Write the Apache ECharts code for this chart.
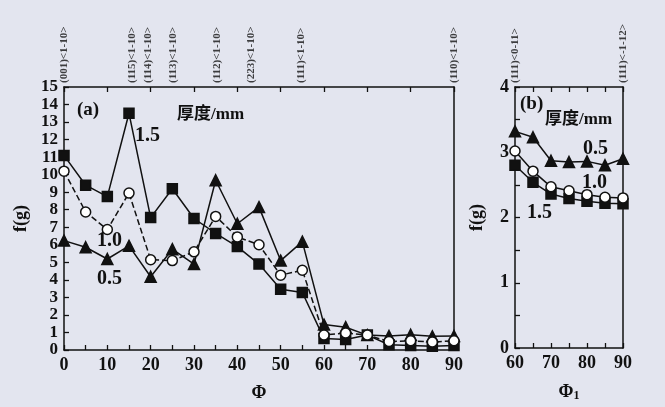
<!DOCTYPE html>
<html><head><meta charset="utf-8">
<script src="https://cdn.jsdelivr.net/npm/echarts@6/dist/echarts.min.js"></script>
<style>html,body{margin:0;padding:0;background:#e3e5ef;}#c{width:665px;height:407px;}</style>
</head><body><div id="c"></div>
<script>
// ---- Data ----
const phiA = [0,5,10,15,20,25,30,35,40,45,50,55,60,65,70,75,80,85,90];
const a15 = [11.1,9.4,8.75,13.5,7.55,9.2,7.5,6.65,5.9,4.9,3.47,3.28,0.65,0.6,0.85,0.3,0.25,0.22,0.25];
const a10 = [10.2,7.87,6.87,8.95,5.15,5.1,5.6,7.62,6.45,6.0,4.27,4.55,0.85,0.97,0.85,0.48,0.53,0.45,0.53];
const a05 = [6.24,5.86,5.19,5.94,4.18,5.75,4.9,9.68,7.2,8.15,5.1,6.18,1.45,1.3,0.85,0.8,0.87,0.78,0.8];

const phiB = [60,65,70,75,80,85,90];
const b05 = [3.32,3.23,2.87,2.85,2.86,2.8,2.9];
const b10 = [3.02,2.71,2.47,2.41,2.35,2.31,2.30];
const b15 = [2.80,2.54,2.36,2.29,2.25,2.22,2.21];

const topLabelsA = [[0,'(001)<1-10>'],[15.8,'(115)<1-10>'],[19.5,'(114)<1-10>'],[25.2,'(113)<1-10>'],[35.3,'(112)<1-10>'],[43.3,'(223)<1-10>'],[54.7,'(111)<1-10>'],[90,'(110)<1-10>']];
const topLabelsB = [[60,'(111)<0-11>'],[90,'(111)<-1-12>']];

const pair = (xs, ys) => xs.map((x,i)=>[x,ys[i]]);
const FONT = 'Liberation Serif';
const lab = {fontFamily:FONT,fontWeight:'bold',fontSize:18,color:'#111'};
const axLine = {show:true,onZero:false,lineStyle:{color:'#111',width:1.5}};
const tickIn = {show:true,inside:true,length:5,lineStyle:{color:'#111',width:1.3}};
const minorIn = {show:true,splitNumber:2,length:5,lineStyle:{color:'#111',width:1.3}};
const valLab = Object.assign({margin:6,interval:0,showMinLabel:true,showMaxLabel:true,hideOverlap:false},lab);
const yLabA = Object.assign({}, valLab, {fontSize:17, lineHeight:17});

function lineSeries(name, xi, yi, data, symbol, size, fill, dashed){
  return {type:'line',name,xAxisIndex:xi,yAxisIndex:yi,data,symbol,symbolSize:size,
    showAllSymbol:true,clip:false,
    lineStyle:{color:'#111',width:1.5,type:dashed?[6,3]:'solid'},
    itemStyle:{color:fill,borderColor:'#111',borderWidth:1.5},z:3};
}
function topLabelSeries(xi, yi, list, yv){
  return {type:'scatter',xAxisIndex:xi,yAxisIndex:yi,symbolSize:0,clip:false,silent:true,
    data:list.map(d=>({value:[d[0],yv],label:{formatter:d[1]}})),
    label:{show:true,position:'top',distance:4,rotate:90,align:'left',verticalAlign:'middle',
      fontFamily:FONT,fontWeight:'bold',fontSize:11,color:'#111'}};
}

const chart = echarts.init(document.getElementById('c'));
chart.setOption({
  animation:false,
  backgroundColor:'#e3e5ef',
  grid:[
    {left:64,top:87,width:390,height:267},
    {left:515,top:87,width:108,height:267}
  ],
  xAxis:[
    {gridIndex:0,type:'value',min:0,max:90,interval:10,axisLine:axLine,axisTick:tickIn,minorTick:minorIn,
      splitLine:{show:false},axisLabel:valLab,
      name:'Φ',nameLocation:'middle',nameGap:34,nameTextStyle:lab},
    {gridIndex:0,type:'value',position:'top',min:0,max:90,interval:10,axisLine:axLine,axisTick:tickIn,
      splitLine:{show:false},axisLabel:{show:false}},
    {gridIndex:1,type:'value',min:60,max:90,interval:10,axisLine:axLine,axisTick:tickIn,minorTick:minorIn,
      splitLine:{show:false},axisLabel:valLab,
      name:'{a|Φ}{s|1}',nameLocation:'middle',nameGap:34,
      nameTextStyle:{rich:{a:lab,s:{fontFamily:FONT,fontWeight:'bold',fontSize:12,color:'#111',verticalAlign:'bottom',padding:[8,0,0,0]}}}},
    {gridIndex:1,type:'value',position:'top',min:60,max:90,interval:5,axisLine:axLine,axisTick:tickIn,
      splitLine:{show:false},axisLabel:{show:false}}
  ],
  yAxis:[
    {gridIndex:0,type:'value',min:0,max:15,interval:1,axisLine:axLine,axisTick:tickIn,
      splitLine:{show:false},axisLabel:yLabA,
      name:'f(g)',nameLocation:'middle',nameRotate:90,nameGap:31,nameTextStyle:lab},
    {gridIndex:1,type:'value',min:0,max:4,interval:1,axisLine:axLine,axisTick:tickIn,minorTick:minorIn,
      splitLine:{show:false},axisLabel:valLab,
      name:'f(g)',nameLocation:'middle',nameRotate:90,nameGap:29,nameTextStyle:lab},
    {gridIndex:0,type:'value',position:'right',min:0,max:15,interval:1,axisLine:axLine,axisTick:{show:false},
      splitLine:{show:false},axisLabel:{show:false}},
    {gridIndex:1,type:'value',position:'right',min:0,max:4,interval:1,axisLine:axLine,axisTick:{show:false},
      splitLine:{show:false},axisLabel:{show:false}}
  ],
  series:[
    lineSeries('0.5',0,0,pair(phiA,a05),'triangle',11,'#111',false),
    lineSeries('1.5',0,0,pair(phiA,a15),'rect',10,'#111',false),
    lineSeries('1.0',0,0,pair(phiA,a10),'circle',10,'#fff',true),
    lineSeries('0.5b',2,1,pair(phiB,b05),'triangle',11,'#111',false),
    lineSeries('1.5b',2,1,pair(phiB,b15),'rect',10,'#111',false),
    lineSeries('1.0b',2,1,pair(phiB,b10),'circle',10,'#fff',false),
    topLabelSeries(0,0,topLabelsA,15),
    topLabelSeries(2,1,topLabelsB,4)
  ],
  graphic:[
    {type:'text',left:77,top:101,style:{text:'(a)',font:'bold 19px "Liberation Serif"',fill:'#111'}},
    {type:'text',left:177,top:106,style:{text:'厚度/mm',font:'bold 17px "Liberation Serif", "Noto Sans CJK SC"',fill:'#111'}},
    {type:'text',left:135,top:126,style:{text:'1.5',font:'bold 20px "Liberation Serif"',fill:'#111'}},
    {type:'text',left:97,top:231,style:{text:'1.0',font:'bold 20px "Liberation Serif"',fill:'#111'}},
    {type:'text',left:97,top:269,style:{text:'0.5',font:'bold 20px "Liberation Serif"',fill:'#111'}},
    {type:'text',left:520,top:95,style:{text:'(b)',font:'bold 19px "Liberation Serif"',fill:'#111'}},
    {type:'text',left:545,top:111,style:{text:'厚度/mm',font:'bold 17px "Liberation Serif", "Noto Sans CJK SC"',fill:'#111'}},
    {type:'text',left:583,top:139,style:{text:'0.5',font:'bold 20px "Liberation Serif"',fill:'#111'}},
    {type:'text',left:582,top:173,style:{text:'1.0',font:'bold 20px "Liberation Serif"',fill:'#111'}},
    {type:'text',left:527,top:203,style:{text:'1.5',font:'bold 20px "Liberation Serif"',fill:'#111'}}
  ]
});
</script></body></html>
